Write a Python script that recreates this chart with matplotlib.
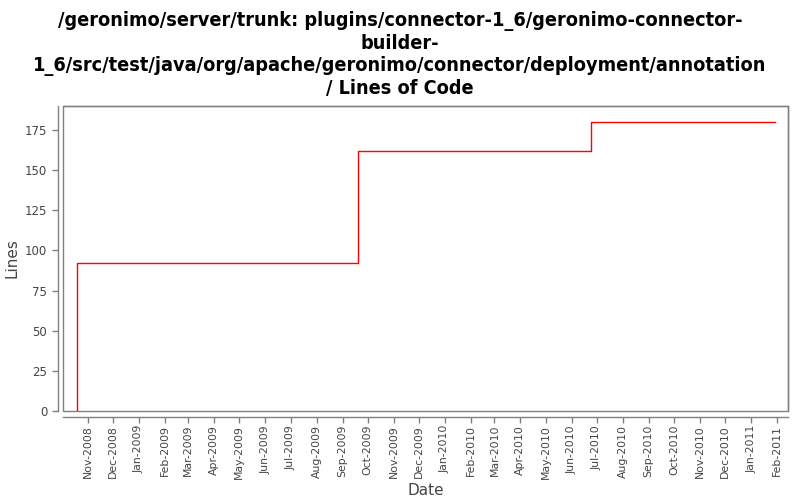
import matplotlib as mpl
import matplotlib.pyplot as plt
import matplotlib.dates as mdates
import numpy as np
from matplotlib.patches import Rectangle

# data
dates = np.array(
    ["2008-10-19", "2008-10-19", "2009-09-19", "2010-06-24", "2011-01-30"],
    dtype="datetime64[D]",
)
lines = [0, 92, 162, 180, 180]

title = (
    "/geronimo/server/trunk: plugins/connector-1_6/geronimo-connector-\n"
    "builder-\n"
    "1_6/src/test/java/org/apache/geronimo/connector/deployment/annotation\n"
    "/ Lines of Code"
)

GRAY = "#808080"
TXT = "#444444"

fig = plt.figure(figsize=(8, 5), dpi=100)
ax = fig.add_axes([0.079, 0.178, 0.906, 0.61])

ax.plot(dates, lines, drawstyle="steps-post", color="#ff0000", linewidth=1.0)

ax.set_xlim(np.datetime64("2008-10-03"), np.datetime64("2011-02-14"))
ax.set_ylim(0, 190)
ax.set_yticks(np.arange(0, 176, 25))

ax.xaxis.set_major_locator(mdates.MonthLocator())
ax.xaxis.set_major_formatter(mdates.DateFormatter("%b-%Y"))
ax.tick_params(axis="x", labelrotation=90, pad=2, labelsize=7.8)

ax.tick_params(axis="both", colors=GRAY, labelcolor=TXT, length=4, width=1)
ax.tick_params(axis="y", labelsize=8.5)

for side in ["left", "bottom"]:
    ax.spines[side].set_position(("outward", 4))
for side in ax.spines:
    ax.spines[side].set_color(GRAY)
    ax.spines[side].set_linewidth(1)
ax.add_patch(Rectangle((0, 0), 1, 1, transform=ax.transAxes, fill=False,
                       edgecolor=GRAY, linewidth=1, clip_on=False))

ax.set_xlabel("Date", fontsize=11, color=TXT, labelpad=3)
ax.set_ylabel("Lines", fontsize=11, color=TXT)

fig.suptitle(title, fontsize=14.2, fontweight="bold", fontstretch="condensed",
             y=0.978, va="top", linespacing=1.2)

plt.savefig("out.png", dpi=100)
